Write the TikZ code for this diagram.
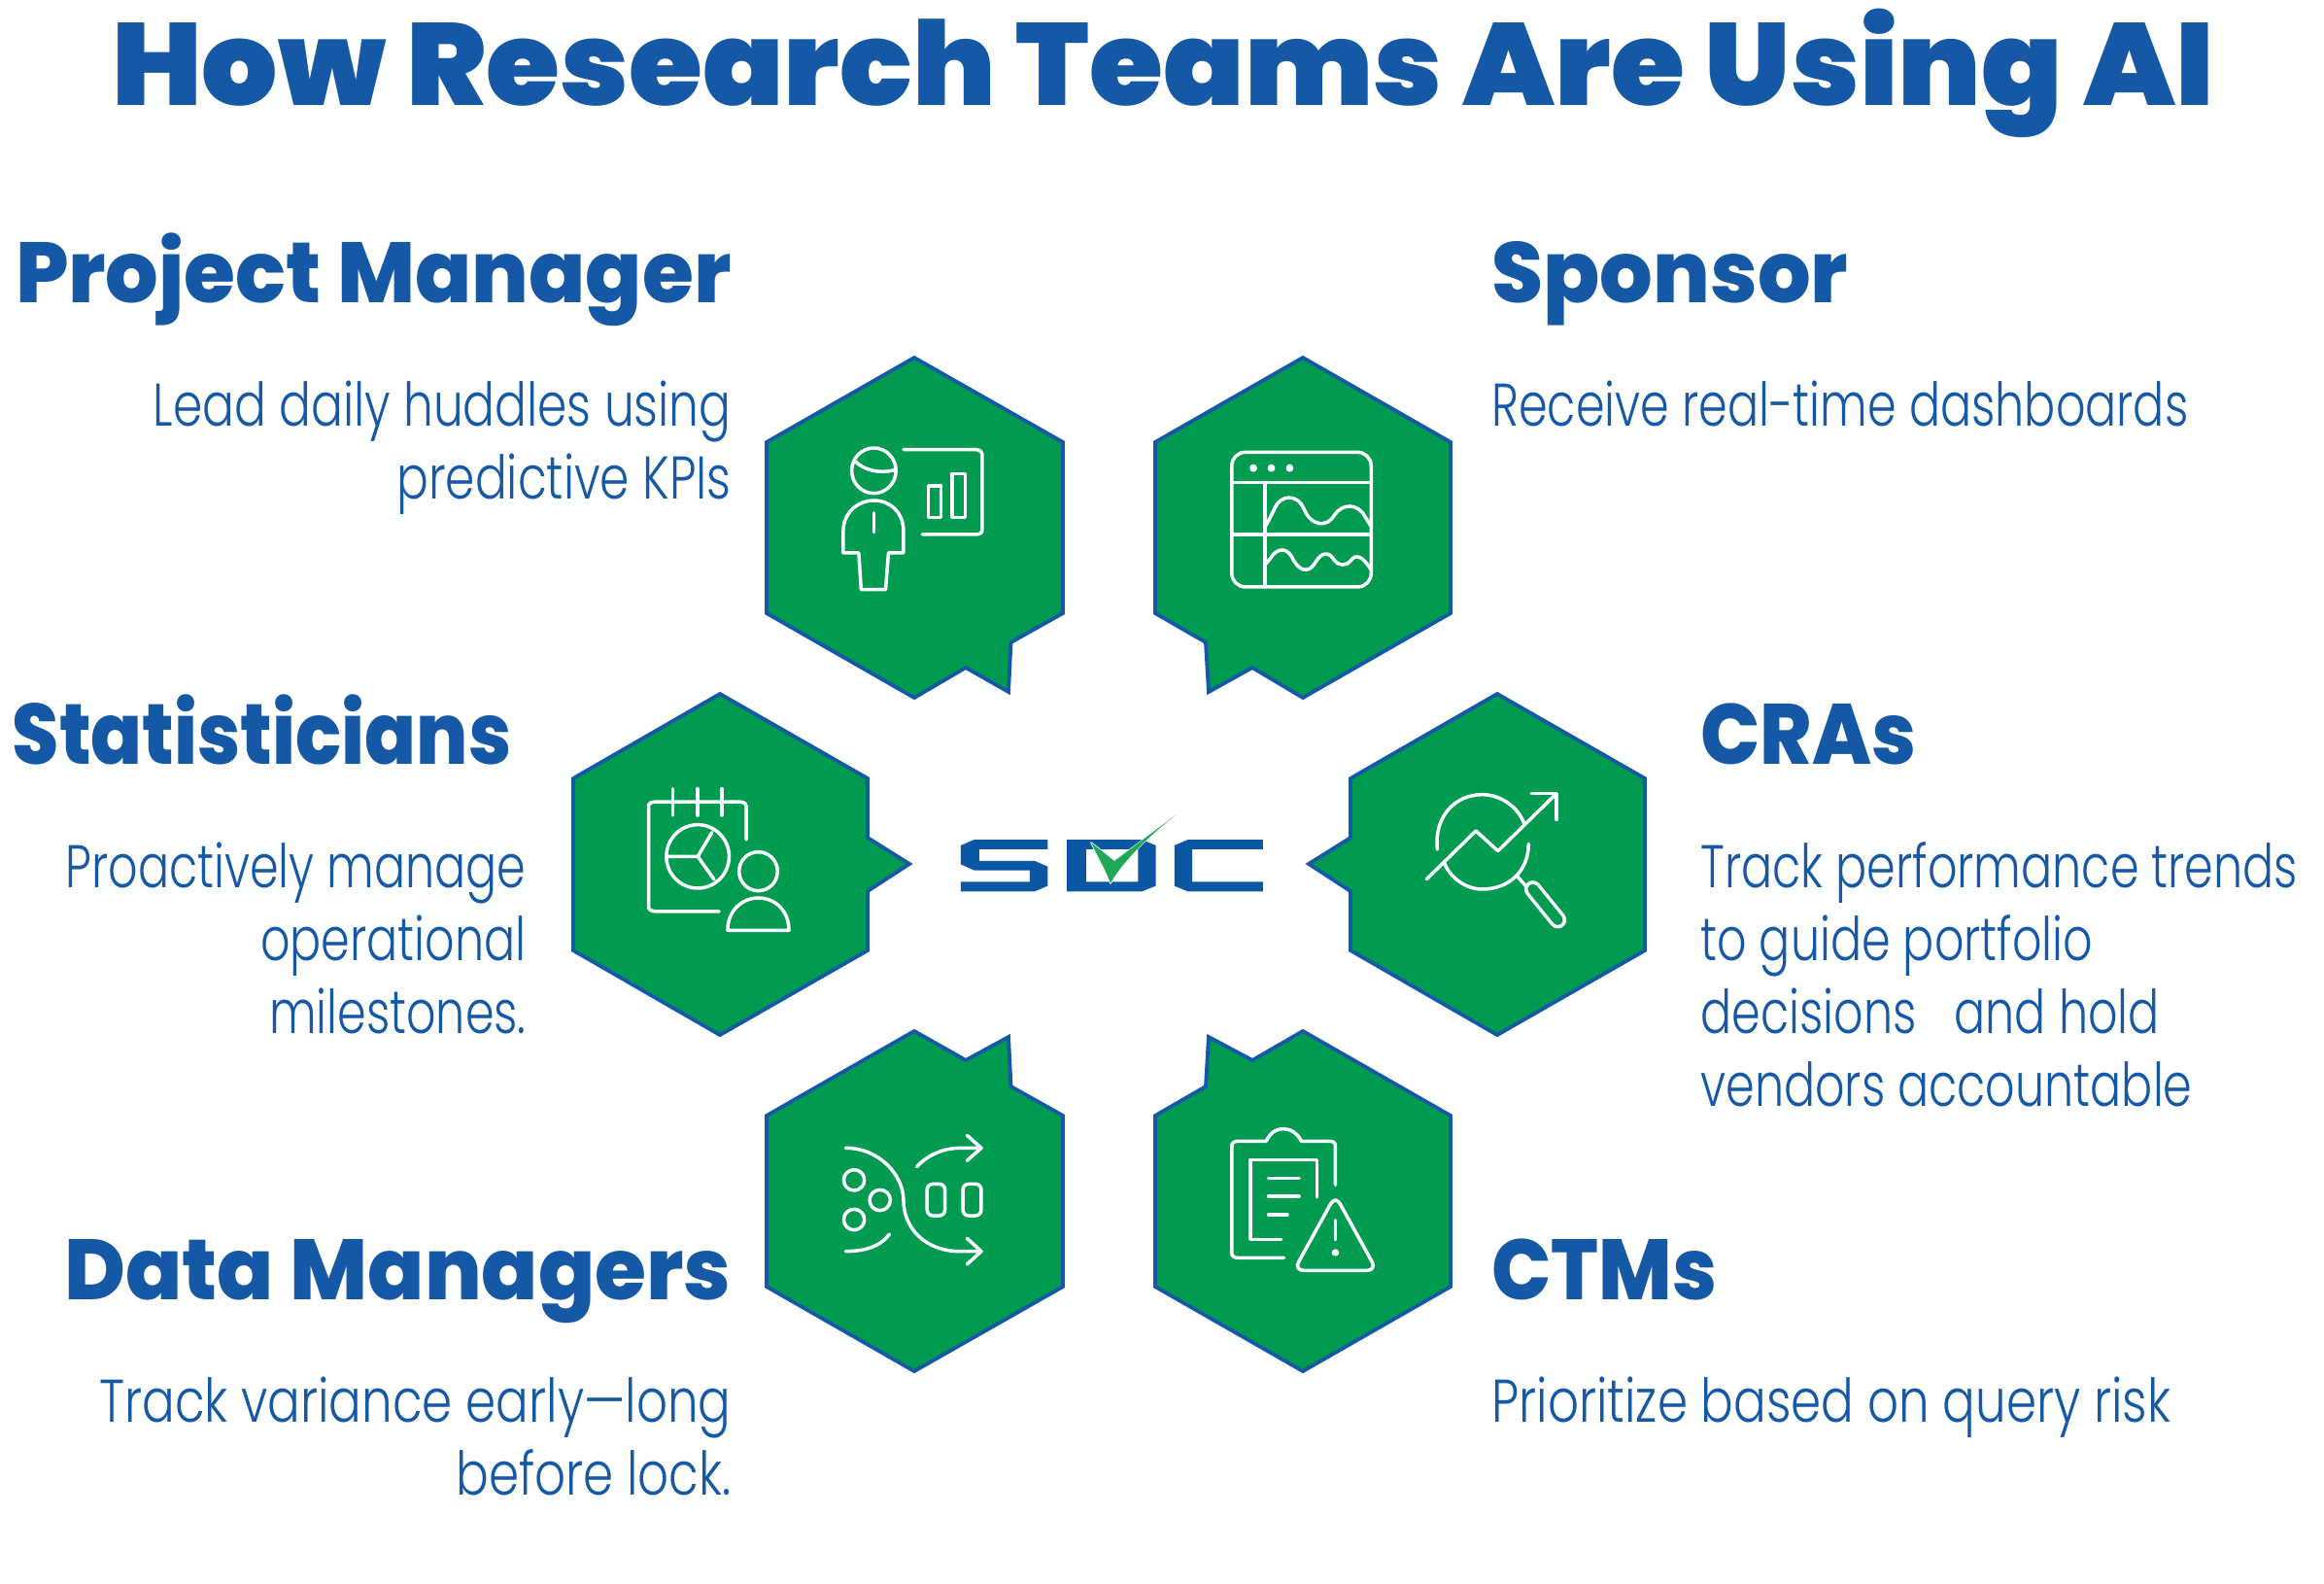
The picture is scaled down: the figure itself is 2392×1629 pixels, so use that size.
\documentclass[tikz,border=0pt]{standalone}
\usepackage{fontspec}
\setmainfont{Poppins Light}
\newfontfamily\titlef{Poppins Black}[FakeStretch=1.025]
\newfontfamily\headf{Poppins ExtraBold}[FakeStretch=0.975]
\newfontfamily\headfn{Poppins ExtraBold}[FakeStretch=0.885]
\newfontfamily\headfm{Poppins ExtraBold}[FakeStretch=0.92]
\newfontfamily\bodyf{Poppins Light}[FakeStretch=0.785]
\newfontfamily\bodyfn{Poppins Light}[FakeStretch=0.768]
\newfontfamily\bodyfw{Poppins Light}[FakeStretch=0.806]
\definecolor{sblue}{HTML}{1558A6}
\definecolor{sgreen}{HTML}{009A50}
\definecolor{lblue}{HTML}{0B57A4}
\definecolor{cgreen}{HTML}{1FA856}
\tikzset{
  hexshape/.style={draw=sblue,fill=sgreen,line width=1.9pt,line join=miter},
  iconline/.style={draw=white,line width=1.75pt,line cap=round,line join=round},
  icondot/.style={fill=white,draw=none},
  cropa/.style={shift={(770,350)},xscale=0.4847,yscale=0.3333},
  cropb/.style={shift={(570,700)},xscale=0.7334,yscale=0.3333},
  cropc/.style={shift={(770,1050)},xscale=0.4847,yscale=0.3333},
  titletext/.style={text=sblue,inner sep=0,font=\titlef\fontsize{60}{70}\selectfont},
  headtext/.style={text=sblue,inner sep=0,font=\headf\fontsize{44}{52}\selectfont},
  headnarrow/.style={text=sblue,inner sep=0,font=\headfn\fontsize{44}{52}\selectfont},
  headmid/.style={text=sblue,inner sep=0,font=\headfm\fontsize{44}{52}\selectfont},
  bodyl/.style={text=sblue,inner sep=0,align=left,anchor=base west,font=\bodyf\fontsize{31}{37.5}\selectfont},
  bodyr/.style={text=sblue,inner sep=0,align=right,anchor=base east,font=\bodyf\fontsize{31}{37.5}\selectfont},
  bnarrow/.style={font=\bodyfn\fontsize{31}{37.5}\selectfont},
  bwide/.style={font=\bodyfw\fontsize{31}{37.5}\selectfont},
}
\begin{document}
\begin{tikzpicture}[x=0.5pt,y=-0.5pt]
\useasboundingbox (0,0) rectangle (2392,1629);
% title and headings
\node[titletext,anchor=base] (title) at (1197,108) {How Research Teams Are Using AI};
\node[headtext,anchor=base east] (hpm) at (753,311) {Project Manager};
\node[headtext,anchor=base west] (hsp) at (1535,311) {Sponsor};
\node[headnarrow,anchor=base east] (hst) at (527,786) {Statisticians};
\node[headmid,anchor=base west] (hcr) at (1750,786) {CRAs};
\node[headtext,anchor=base east] (hdm) at (753,1337) {Data Managers};
\node[headmid,anchor=base west] (hct) at (1535,1337) {CTMs};
% bodies
\node[bodyr] (bpm) at (753,513) {Lead daily huddles using\\predictive KPIs};
\node[bodyl,bnarrow] (bsp) at (1535,438) {Receive real-time dashboards};
\node[bodyr,bnarrow] (bst) at (542,1063) {Proactively manage\\operational\\milestones.};
\node[bodyl,bnarrow] (bcr) at (1750,1138) {Track performance trends\\to guide portfolio\\decisions\ \ \ and hold\\vendors accountable};
\node[bodyr,bwide] (bdm) at (753,1538) {Track variance early—long\\before lock.};
\node[bodyl,bwide] (bct) at (1535,1463) {Prioritize based on query risk};
% hexagons
\path[hexshape] (941,368)--(1094,455)--(1094,631)--(1040.5,661)--(1038,712)--(994,687)--(941,718)--(789,631)--(789,455)--cycle;
\path[hexshape] (1341,368)--(1493,455)--(1493,631)--(1341,718)--(1289,687)--(1244,712)--(1241,661)--(1189,631)--(1189,455)--cycle;
\path[hexshape] (741,714)--(893,801)--(893,862)--(936,889)--(893,917)--(893,978)--(741,1065)--(590,978)--(590,801)--cycle;
\path[hexshape] (1541,714)--(1693,801)--(1693,978)--(1541,1065)--(1390,978)--(1390,917)--(1347,889)--(1390,862)--(1390,801)--cycle;
\path[hexshape] (941,1061)--(994,1091)--(1038,1067)--(1040.5,1118)--(1094,1148)--(1094,1324)--(941,1411)--(789,1324)--(789,1148)--cycle;
\path[hexshape] (1341,1061)--(1493,1148)--(1493,1324)--(1341,1411)--(1189,1324)--(1189,1148)--(1241,1118)--(1244,1067)--(1289,1091)--cycle;
% icon 1: presenter
\begin{scope}[cropa]
\draw[iconline] (267,403) ellipse (47 and 70);
\draw[iconline] (228,375) .. controls (245,400) and (280,415) .. (312,400);
\draw[iconline] (202,657) -- (202,590) .. controls (202,530) and (235,495) .. (267,495) .. controls (300,495) and (330,530) .. (330,590) -- (330,657) -- (298,657) -- (292,770) -- (240,770) -- (235,657) -- cycle;
\draw[iconline] (267,533) -- (267,593);
\draw[iconline] (330,338) -- (482,338) .. controls (492,338) and (497,345) .. (497,355) -- (497,585) .. controls (497,595) and (492,600) .. (482,600) -- (370,600);
\draw[iconline] (383,450) rectangle (410,547);
\draw[iconline] (433,412) rectangle (461,547);
\end{scope}
% icon 2: dashboard
\begin{scope}[cropa]
\draw[iconline,rounded corners=7pt] (1027,346) rectangle (1323,762);
\draw[iconline] (1027,440) -- (1323,440) (1027,600) -- (1323,600) (1098,440) -- (1098,762);
\foreach \dx in {1073,1111,1150} \fill[icondot] (\dx,395) ellipse (8 and 12);
\draw[iconline] (1100,572) -- (1118,520) .. controls (1130,478) and (1165,472) .. (1180,520) .. controls (1195,575) and (1230,580) .. (1245,540) .. controls (1262,503) and (1295,503) .. (1310,545) -- (1323,575);
\draw[iconline] (1100,690) -- (1115,662) .. controls (1130,640) and (1145,645) .. (1155,670) .. controls (1168,712) and (1190,725) .. (1205,685) .. controls (1220,650) and (1235,655) .. (1245,680) .. controls (1255,698) and (1270,698) .. (1280,680) .. controls (1290,660) and (1305,665) .. (1323,710);
\end{scope}
% icon 3: calendar, chart and person
\begin{scope}[cropb]
\draw[iconline] (232,714) -- (145,714) .. controls (137,714) and (133,708) .. (133,700) -- (133,388) .. controls (133,380) and (137,375) .. (145,375) -- (258,375) .. controls (266,375) and (270,380) .. (270,388) -- (270,492);
\foreach \tx in {167,202,236} \draw[iconline] (\tx,335) -- (\tx,417);
\draw[iconline] (202,544) ellipse (44 and 98);
\draw[iconline] (160,544) -- (202,544) -- (222,470) (202,544) -- (225,615);
\draw[iconline] (287,590) ellipse (27 and 60);
\draw[iconline] (244,772) .. controls (244,710) and (265,672) .. (287,672) .. controls (310,672) and (330,710) .. (330,772) -- cycle;
\end{scope}
% icon 4: trend and magnifier
\begin{scope}[cropb]
\draw[iconline] (1240,522) .. controls (1235,420) and (1265,353) .. (1303,353) .. controls (1330,353) and (1355,395) .. (1362,445);
\draw[iconline] (1368,505) .. controls (1368,590) and (1340,645) .. (1303,645) .. controls (1280,645) and (1258,610) .. (1250,565);
\draw[iconline] (1225,614) -- (1294,465) -- (1325,527) -- (1407,350);
\draw[iconline] (1372,350) -- (1407,350) -- (1407,430);
\draw[iconline] (1352,605) -- (1364,635);
\draw[white,line width=8.8pt,line cap=round] (1374,645) -- (1409,740);
\draw[sgreen,line width=5.3pt,line cap=round] (1374,645) -- (1409,740);
\end{scope}
% icon 5: data flow
\begin{scope}[cropc]
\draw[iconline] (207,394) .. controls (280,394) and (330,480) .. (330,555) .. controls (330,640) and (375,713) .. (450,713) -- (495,713);
\draw[iconline] (465,673) -- (495,713) -- (465,753);
\draw[iconline] (358,452) .. controls (385,410) and (420,394) .. (450,394) -- (495,394);
\draw[iconline] (465,355) -- (495,394) -- (465,433);
\draw[iconline] (207,713) .. controls (245,713) and (280,700) .. (300,660);
\draw[iconline] (225,493) ellipse (22 and 32);
\draw[iconline] (280,555) ellipse (22 and 32);
\draw[iconline] (225,615) ellipse (22 and 32);
\draw[iconline,rounded corners=3pt] (380,505) rectangle (418,603);
\draw[iconline,rounded corners=3pt] (456,505) rectangle (495,603);
\end{scope}
% icon 6: clipboard with warning
\begin{scope}[cropc]
\draw[iconline] (1247,508) -- (1247,388) .. controls (1247,378) and (1243,373) .. (1235,373) -- (1175,373) .. controls (1165,345) and (1150,335) .. (1137,335) .. controls (1120,335) and (1110,345) .. (1100,373) -- (1040,373) .. controls (1032,373) and (1027,378) .. (1027,388) -- (1027,718) .. controls (1027,728) and (1032,733) .. (1040,733) -- (1138,733);
\draw[iconline] (1132,676) -- (1067,676) -- (1067,430) -- (1208,430) -- (1208,546);
\draw[iconline] (1105,488) -- (1170,488) (1105,543) -- (1170,543) (1105,600) -- (1145,600);
\draw[iconline,rounded corners=5pt] (1247,540) -- (1335,772) -- (1159,772) -- cycle;
\draw[iconline] (1247,617) -- (1247,677);
\fill[icondot] (1247,717) ellipse (8 and 11);
\end{scope}
% logo
\begin{scope}[cropb]
\fill[lblue] (693,492)--(590,492)--(571,510)--(571,568)--(590,587)--(668,587)--(668,622)--(571,622)--(571,652)--(675,652)--(693,635)--(693,575)--(675,558)--(597,558)--(597,522)--(693,522)--cycle;
\fill[lblue,even odd rule] (720,492)--(825,492)--(845,510)--(845,635)--(825,652)--(720,652)--cycle (747,522)--(820,522)--(820,622)--(747,622)--cycle;
\fill[lblue] (995,492)--(890,492)--(871,510)--(871,635)--(890,652)--(995,652)--(995,622)--(896,622)--(896,522)--(995,522)--cycle;
\end{scope}
\path[draw=white,line width=0.8pt,line join=round] (1123,867) .. controls (1131,884) and (1139,897) .. (1143,909) .. controls (1152,892) and (1176,865) .. (1200,847) -- (1147,886) -- cycle;
\path[fill=cgreen] (1123,867) .. controls (1131,884) and (1139,897) .. (1143,909) .. controls (1152,892) and (1176,865) .. (1211,838) -- (1147,886) -- cycle;
\end{tikzpicture}
\end{document}
